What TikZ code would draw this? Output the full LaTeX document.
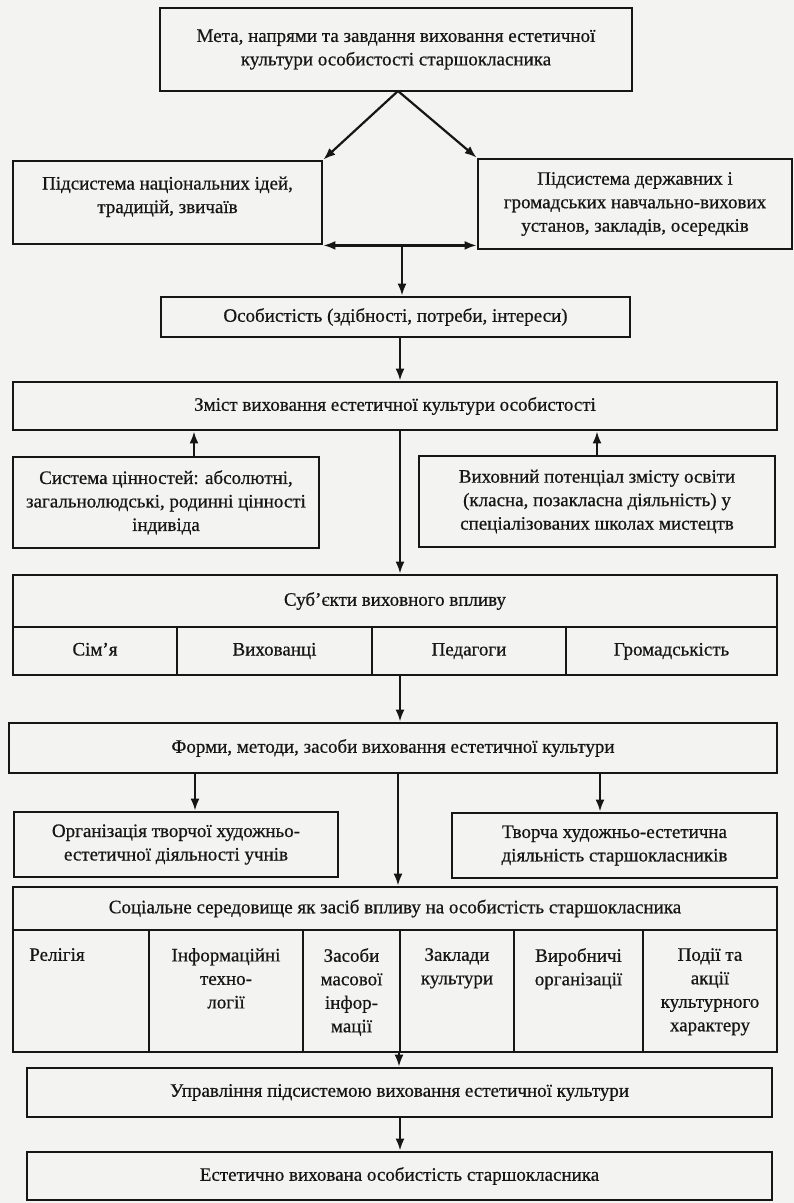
\documentclass[tikz,border=0pt]{standalone}
\usepackage{fontspec}
\setmainfont{Liberation Serif}[FakeBold=0.6]
\usetikzlibrary{arrows.meta}
\definecolor{ink}{RGB}{22,22,22}
\definecolor{paper}{RGB}{243,243,241}
\newcommand\myfs{\fontsize{19}{23.5}\selectfont}
\begin{document}
\begin{tikzpicture}[x=1pt,y=-1pt,
  box/.style={draw=ink, line width=2.8pt, inner sep=2pt, align=center, font=\myfs, text=ink},
  cell/.style={draw=ink, line width=2.8pt, inner sep=0pt},
  lbl/.style={inner sep=0pt, align=center, font=\myfs, text=ink},
  arr/.style={draw=ink, line width=2.2pt, -{Latex[length=12pt,width=9pt]}},
  dblarr/.style={draw=ink, line width=2.2pt, {Latex[length=12pt,width=9pt]}-{Latex[length=12pt,width=9pt]}}]
\fill[paper] (0,0) rectangle (794,1203);
\useasboundingbox (0,0) rectangle (794,1203);

% top
\node[box, minimum width=472pt, minimum height=83pt] (meta) at (396,49.5)
  {Мета, напрями та завдання виховання естетичної\\культури особистості старшокласника};
\node[box, minimum width=309pt, minimum height=83pt] (natl) at (167.5,202.5)
  {Підсистема національних ідей,\\традицій, звичаїв\\[-8pt]};
\node[box, minimum width=314pt, minimum height=90pt] (derzh) at (635,204)
  {Підсистема державних і\\громадських навчально-вихових\\установ, закладів, осередків};
\node[box, minimum width=469pt, minimum height=40pt] (osob) at (395.5,317)
  {Особистість (здібності, потреби, інтереси)};
\node[box, minimum width=764pt, minimum height=48pt] (zmist) at (395,406)
  {Зміст виховання естетичної культури особистості};
\node[box, minimum width=306pt, minimum height=91pt] (sys) at (166,502.5)
  {Система цінностей: абсолютні,\\загальнолюдські, родинні цінності\\індивіда};
\node[box, minimum width=356pt, minimum height=91pt] (vyh) at (597,501.5)
  {Виховний потенціал змісту освіти\\(класна, позакласна діяльність) у\\спеціалізованих школах мистецтв};

% subjects
\node[box, minimum width=764pt, minimum height=52pt] (subj) at (395,601)
  {Суб’єкти виховного впливу};
\node[box, minimum width=164pt, minimum height=48pt, text height=13pt, text depth=4pt] (s1) at (95,651) {Сім’я};
\node[box, minimum width=195pt, minimum height=48pt, text height=13pt, text depth=4pt] (s2) at (274.5,651) {Вихованці};
\node[box, minimum width=194pt, minimum height=48pt, text height=13pt, text depth=4pt] (s3) at (469,651) {Педагоги};
\node[box, minimum width=211pt, minimum height=48pt, text height=13pt, text depth=4pt] (s4) at (671.5,651) {Громадськість};

\node[box, minimum width=768pt, minimum height=50pt] (forms) at (393,748)
  {Форми, методи, засоби виховання естетичної культури};
\node[box, minimum width=324pt, minimum height=65pt] (org) at (176,844.5)
  {Організація творчої художньо-\\естетичної діяльності учнів};
\node[box, minimum width=325pt, minimum height=65pt] (tvor) at (614.5,845.5)
  {Творча художньо-естетична\\діяльність старшокласників};
\node[box, minimum width=764pt, minimum height=43pt] (soc) at (395,908.5)
  {Соціальне середовище як засіб впливу на особистість старшокласника};

% social cells
\node[cell, minimum width=136pt, minimum height=122pt] (c1) at (81,991) {};
\node[cell, minimum width=154pt, minimum height=122pt] (c2) at (226,991) {};
\node[cell, minimum width=97pt, minimum height=122pt] (c3) at (351.5,991) {};
\node[cell, minimum width=114pt, minimum height=122pt] (c4) at (457,991) {};
\node[cell, minimum width=129pt, minimum height=122pt] (c5) at (578.5,991) {};
\node[cell, minimum width=134pt, minimum height=122pt] (c6) at (710,991) {};
\node[lbl, anchor=north] (t1) at (57,948) {Релігія};
\node[lbl, anchor=north] (t2) at (226,948) {Інформаційні\\техно-\\логії};
\node[lbl, anchor=north] (t3) at (351.5,948) {Засоби\\масової\\інфор-\\мації};
\node[lbl, anchor=north] (t4) at (457,948) {Заклади\\культури};
\node[lbl, anchor=north] (t5) at (578.5,948) {Виробничі\\організації};
\node[lbl, anchor=north] (t6) at (710,948) {Події та\\акції\\культурного\\характеру};

\node[box, minimum width=745pt, minimum height=49pt] (uprav) at (399.5,1092.5)
  {Управління підсистемою виховання естетичної культури};
\node[box, minimum width=745pt, minimum height=48pt] (est) at (399.5,1176)
  {Естетично вихована особистість старшокласника};

% connectors
\coordinate (apex) at (398,91);
\coordinate (cx) at (400,0);
\draw[arr] (apex) -- (natl.north east);
\draw[arr] (apex) -- (derzh.north west);
\coordinate (j1) at (402,245);
\draw[dblarr] (natl.south east) -- (natl.south east -| derzh.west);
\draw[arr] (j1) -- (j1 |- osob.north);
\draw[arr] (cx |- osob.south) -- (cx |- zmist.north);
\draw[arr] ([xshift=28pt]sys.north) -- ([xshift=28pt]sys.north |- zmist.south);
\draw[arr] (vyh.north) -- (vyh.north |- zmist.south);
\draw[arr] (cx |- zmist.south) -- (cx |- subj.north);
\draw[arr] (cx |- s3.south) -- (cx |- forms.north);
\draw[arr] ([xshift=19pt]forms.south -| org.north) -- ([xshift=19pt]org.north);
\draw[arr] ([xshift=-14.5pt]forms.south -| tvor.north) -- ([xshift=-14.5pt]tvor.north);
\draw[arr] ([xshift=-2pt]cx |- forms.south) -- ([xshift=-2pt]cx |- soc.north);
\draw[arr] ([xshift=-1pt]cx |- c3.south) -- ([xshift=-1pt]cx |- uprav.north);
\draw[arr] (cx |- uprav.south) -- (cx |- est.north);
\end{tikzpicture}
\end{document}
